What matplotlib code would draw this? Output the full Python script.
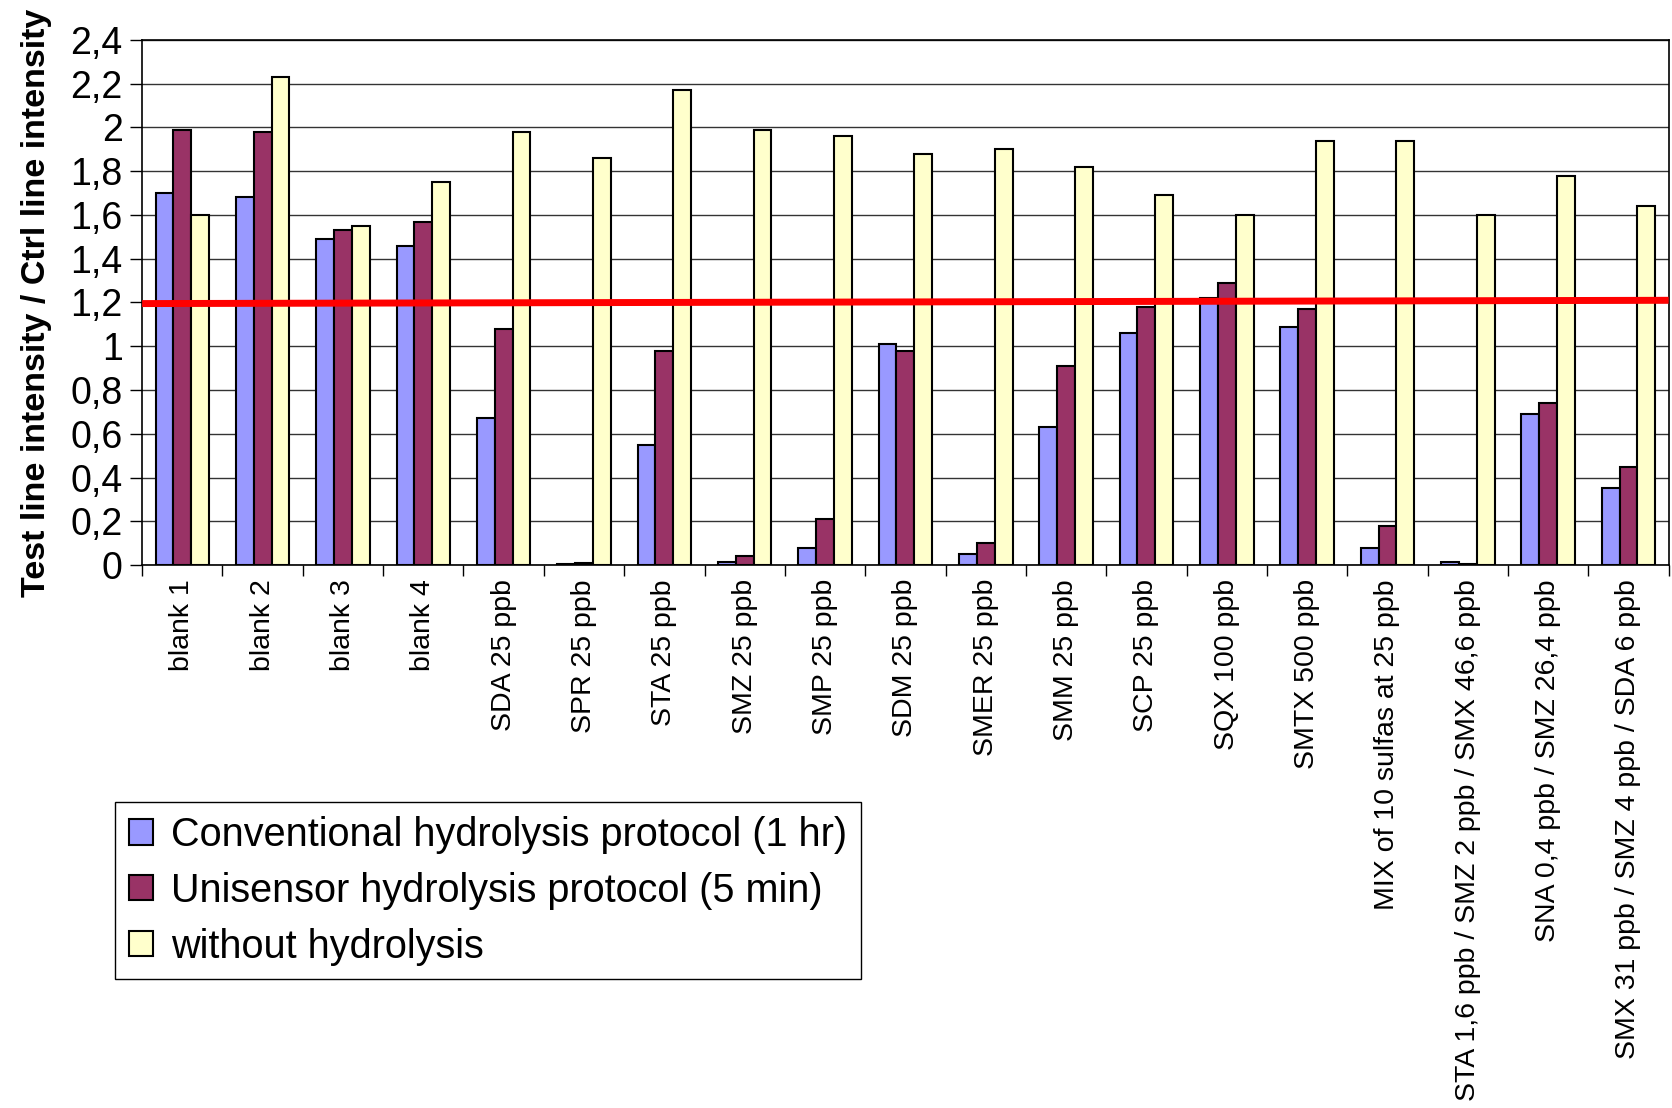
import numpy as np
import matplotlib
matplotlib.use("Agg")
import matplotlib.pyplot as plt

plt.rcParams['font.family'] = ['Liberation Sans', 'DejaVu Sans']

# Data
samples = ['blank 1', 'blank 2', 'blank 3', 'blank 4', 'SDA 25 ppb', 'SPR 25 ppb',
           'STA 25 ppb', 'SMZ 25 ppb', 'SMP 25 ppb', 'SDM 25 ppb', 'SMER 25 ppb',
           'SMM 25 ppb', 'SCP 25 ppb', 'SQX 100 ppb', 'SMTX 500 ppb',
           'MIX of 10 sulfas at 25 ppb',
           'STA 1,6 ppb / SMZ 2 ppb / SMX 46,6 ppb',
           'SNA 0,4 ppb / SMZ 26,4 ppb',
           'SMX 31 ppb / SMZ 4 ppb / SDA 6 ppb']
conventional = [1.70, 1.68, 1.49, 1.46, 0.67, 0.003, 0.55, 0.015, 0.08, 1.01, 0.05,
                0.63, 1.06, 1.22, 1.09, 0.08, 0.015, 0.69, 0.35]
unisensor = [1.99, 1.98, 1.53, 1.57, 1.08, 0.01, 0.98, 0.04, 0.21, 0.98, 0.10,
             0.91, 1.18, 1.29, 1.17, 0.18, 0.005, 0.74, 0.45]
no_hydrolysis = [1.60, 2.23, 1.55, 1.75, 1.98, 1.86, 2.17, 1.99, 1.96, 1.88, 1.90,
                 1.82, 1.69, 1.60, 1.94, 1.94, 1.60, 1.78, 1.64]
series_names = ['Conventional hydrolysis protocol (1 hr)',
                'Unisensor hydrolysis protocol (5 min)',
                'without hydrolysis']
series_colors = ['#9999FF', '#993366', '#FFFFCC']
threshold = [1.195, 1.21]  # red cut-off line, left end / right end
y_ticks = [0, 0.2, 0.4, 0.6, 0.8, 1, 1.2, 1.4, 1.6, 1.8, 2, 2.2, 2.4]

fig = plt.figure(figsize=(16.72, 11.08), dpi=100)
ax = fig.add_axes([0.085, 0.490, 0.913, 0.474])

x = np.arange(len(samples))
w = 1 / 4.5
for i, vals in enumerate([conventional, unisensor, no_hydrolysis]):
    ax.bar(x + (i - 1) * w, vals, w, color=series_colors[i], edgecolor='black',
           linewidth=1.5, label=series_names[i], zorder=3)

ax.plot([-0.5, len(samples) - 0.5], threshold, color='#FF0000', linewidth=5,
        zorder=4, solid_capstyle='butt')

ax.set_xlim(-0.5, len(samples) - 0.5)
ax.set_ylim(0, 2.4)
ax.set_yticks(y_ticks)
ax.set_yticklabels([('%g' % t).replace('.', ',') for t in y_ticks], fontsize=27)
ax.yaxis.grid(True, color='#333333', linewidth=1, zorder=0)
ax.tick_params(axis='y', length=9, width=1, pad=5)

ax.set_xticks(x)
ax.set_xticklabels(samples, rotation=90, fontsize=20.5, va='top', ha='center')
ax.set_xticks(np.arange(len(samples) + 1) - 0.5, minor=True)
ax.tick_params(axis='x', which='major', length=0, pad=10)
ax.tick_params(axis='x', which='minor', length=8, width=1)

for s in ax.spines.values():
    s.set_linewidth(1.2)
    s.set_color('black')

ax.set_ylabel('Test line intensity / Ctrl line intensity', fontsize=24.5,
              fontweight='bold', labelpad=13)

fig.legend(loc='lower left', bbox_to_anchor=(0.069, 0.116), fontsize=28.5,
           frameon=True, fancybox=False, edgecolor='black', framealpha=1,
           handlelength=0.6, handleheight=0.6, handletextpad=0.45,
           labelspacing=0.45, borderpad=0.35, borderaxespad=0)

fig.savefig('out.png', dpi=100)
